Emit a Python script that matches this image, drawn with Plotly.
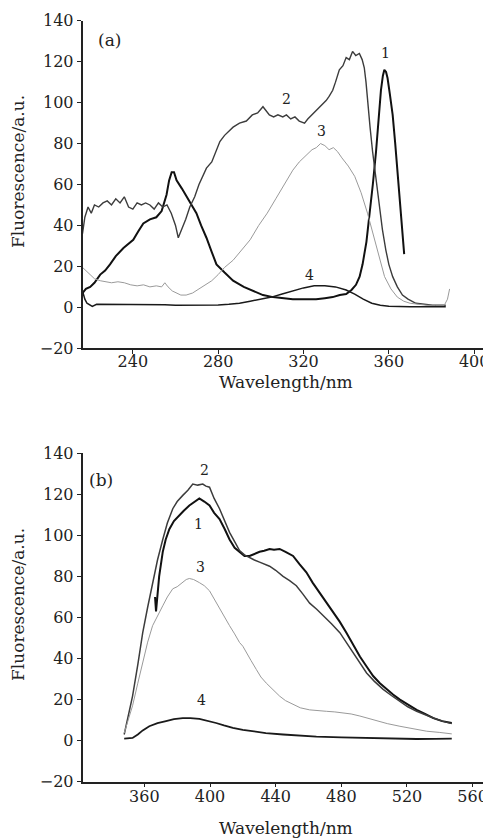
import plotly.graph_objects as go

# ---------- Panel (a) data ----------
a1_x = [216.4, 218, 220, 222, 224.7, 227, 229.3, 232, 235.6, 238, 240.2, 242.5, 244.9, 248, 251, 253.5, 255.8, 257, 258.2, 259.3, 260.5, 263, 265.2, 267.5, 269.8, 272, 274.5, 277, 279.2, 283, 287, 292, 296.3, 301, 305.7, 310, 315, 320, 325.9, 330, 333.7, 337, 340, 342.5, 344.6, 346.3, 347.7, 349.5, 350.9, 352.5, 354, 355.3, 356.3, 357.2, 357.9, 358.7, 359.4, 360.5, 361.8, 363, 364.1, 365, 365.7, 366.5, 367.2]
a1_y = [7, 9, 10, 12, 16, 18, 21, 25, 29, 31, 33, 37, 41, 43, 44, 47, 55, 62, 66, 66, 62, 58, 54, 50, 46, 40, 34, 27, 21, 17, 13, 10, 8, 6, 5, 4.5, 4, 4, 4, 4.5, 5, 6, 6.5, 8.5, 11, 15, 21, 32, 44, 60, 76, 93, 106, 113, 116, 115, 112, 104, 94, 80, 65, 53, 44, 35, 26]

a2_x = [216.4, 217.5, 219, 220.5, 222, 224, 226, 228, 230, 232, 234, 236, 238, 240, 242, 244, 246, 248, 250, 252, 254, 256, 258, 260, 261.3, 263, 264.8, 266.7, 269, 271, 274.5, 277, 279, 280.8, 283, 285, 287, 290, 293.2, 296, 298.5, 301, 302.5, 304, 306, 308, 310.3, 312, 314, 316, 318, 320.5, 322, 324, 326, 328, 330.6, 332, 333.7, 335, 336.8, 338.5, 340, 341.5, 343, 344.5, 346.2, 347.5, 348.5, 349.3, 350, 351.2, 352.4, 354, 355.5, 357, 358.6, 360, 361.8, 364, 366.4, 369, 372.7, 376, 380.5, 384, 386.7]
a2_y = [36, 44, 49, 46, 50, 49, 51, 52, 50, 53, 51, 54, 49, 48, 51, 50, 51, 50, 48, 51, 49, 50, 46, 40, 34, 38, 43, 49, 54, 60, 68, 71, 76, 81, 84, 86, 88, 90, 91, 94, 95, 98, 96, 94, 93, 94, 93, 94, 92, 93, 91, 90, 92, 94, 96, 98, 101, 103, 106, 110, 116, 118, 122, 121, 125, 123, 124, 121, 117, 110, 101, 88, 76, 62, 49, 38, 28, 21, 15, 10, 6, 4, 2, 1.5, 1, 1, 1]

a3_x = [216.4, 218, 220, 222, 224.7, 227, 230, 233, 236, 239, 242, 245, 248, 251, 253.5, 255, 256.5, 258.5, 260.5, 262.5, 265, 268, 271, 274, 277, 280, 283, 287, 291, 295, 299, 303, 307, 311, 315, 318, 321, 324, 326, 328, 330, 332, 334, 336, 338, 341, 344, 347, 350, 353, 355.5, 358, 361, 364, 367, 370, 374, 378, 382, 386, 387.5, 388.5]
a3_y = [19.5, 18, 16, 14, 13, 12.5, 12, 12.5, 12, 11, 10.5, 11, 10, 10.5, 10, 12, 10, 8, 7, 6, 6, 7, 9, 11, 13, 16, 19.5, 23, 28, 33, 40, 46, 53, 60, 67, 71, 74, 77, 78, 80, 79, 77, 78, 76, 73, 69, 64, 56, 46, 34, 24, 15, 9, 5, 3, 2, 1.5, 1, 1, 1, 4, 9]

a4_x = [216.4, 217.5, 218.5, 219.5, 221, 223, 226, 230, 235, 240, 245, 250, 255, 260, 265, 270, 275, 280, 285, 290, 295, 300, 305, 310, 315, 320, 325, 330, 335, 340, 344, 348, 352, 356, 360, 365, 370, 375, 380, 386.7]
a4_y = [8, 4, 2, 1.5, 0.5, 1.5, 1.5, 1.2, 1.5, 1.3, 1.5, 1.2, 1.3, 1, 1, 1, 1, 1.2, 1.5, 2, 3, 4, 5, 6.5, 8, 9.5, 10.5, 10.5, 10, 8.5, 6.5, 4, 2, 1, 0.5, 0.3, 0.3, 0.3, 0.3, 0.3]

# ---------- Panel (b) data ----------
b1_x = [366.5, 367.1, 369, 371.2, 373, 375.2, 378, 381.3, 384, 387.4, 390, 393.5, 396.5, 399.7, 402.5, 405.8, 409, 411.9, 415, 418, 421, 424.1, 427, 430.2, 433, 436.3, 439, 442.4, 446, 450.6, 454.5, 458.7, 462.5, 466.9, 471, 475, 479, 483.1, 487, 491.3, 495.5, 499.4, 503.5, 507.6, 511.5, 515.7, 520.5, 525.9, 531, 536.1, 541.5, 547.3]
b1_y = [70, 63, 80, 92, 98, 103, 107, 110, 112, 114.6, 116, 118, 116.5, 114.6, 111, 108, 103, 98, 94, 92, 90, 90, 91, 92, 92.5, 93.4, 93, 93.4, 92, 90, 86, 82, 77, 72, 67, 62.4, 58, 52.6, 47, 41, 36, 31.5, 28, 25, 22.5, 20, 17.5, 15, 13, 11, 9.5, 8.6]

b2_x = [347.7, 350, 352.8, 356, 359, 362, 365, 368, 371.2, 374, 377.3, 380, 383.4, 386.5, 389.5, 392.5, 395.6, 397.5, 399.7, 402.5, 405.8, 409, 411.9, 415, 418, 421, 424.1, 427, 430.2, 433, 436.3, 440, 444.5, 448.5, 452.6, 456.5, 460.7, 465, 468.9, 474, 479.1, 483, 487.2, 491, 495.4, 500, 505.5, 510.5, 515.7, 520.5, 525.9, 531, 536.1, 541.5, 547.3]
b2_y = [3, 11, 21.7, 37, 52.6, 65, 77, 88, 98, 106, 113, 116.5, 119.5, 122, 125, 124.5, 125, 124, 123.5, 118, 113, 107, 101.5, 97, 92.6, 90.5, 89, 88, 87, 86, 85, 83, 80, 78, 75.5, 71.5, 67, 64, 61, 57, 52.6, 48, 43, 38, 33, 29, 25, 22, 19, 16.5, 14.3, 12.5, 11, 9.5, 8.3]

b3_x = [347.7, 350, 352.8, 356, 359, 362, 365, 368, 371.2, 374, 377.3, 380, 383.4, 385.5, 387.4, 390, 393.5, 396.5, 399.7, 402.5, 405.8, 409, 411.9, 415, 418, 420, 422, 425, 428.2, 431, 434.3, 438, 442.4, 446, 450.6, 455, 460.7, 465.5, 470.9, 476, 481.1, 486, 491.3, 496, 501.5, 508, 515.7, 524, 532, 540, 547.3]
b3_y = [3.7, 10, 17, 28, 38, 48, 56, 61, 65.7, 70, 74, 75, 77, 78.5, 79, 78.5, 77, 75.5, 73, 69, 64, 60, 56, 52, 47.8, 46, 43, 39, 34.7, 31, 28, 25, 21.7, 19.5, 17.6, 16, 15, 14.5, 14.3, 14, 13.5, 13, 12, 11, 9.5, 8.3, 7, 5.8, 4.6, 4, 3.3]

b4_x = [347.7, 350, 352.8, 356, 359, 363, 368, 373.2, 378, 383.4, 388, 393.5, 398, 403.7, 408.5, 413.9, 420, 426.1, 434, 444.5, 454, 464.8, 480, 495.4, 510, 525.9, 537, 547.3]
b4_y = [1, 1, 1.3, 3, 5, 7, 8.5, 9.5, 10.5, 11, 11, 10.6, 9.8, 8.6, 7.4, 6.2, 5.3, 4.6, 3.7, 3, 2.5, 2, 1.6, 1.3, 1, 0.8, 0.9, 1]

# ---------- labels ----------
curve_names = ["1", "2", "3", "4"]
a_label_x = [358.6, 311.9, 328.3, 322.8]
a_label_y = [124, 102, 86, 16]
b_label_x = [393.2, 396.6, 394.0, 395.0]
b_label_y = [105.6, 131.7, 84.4, 20]

a_xticks = [240, 280, 320, 360, 400]
b_xticks = [360, 400, 440, 480, 520, 560]
y_ticks = [-20, 0, 20, 40, 60, 80, 100, 120, 140]

# page has an 8px body margin: figure occupies page pixels 8..491 x 8..838
OFF = 8
W, H = 491 - OFF, 838 - OFF
FONT = "DejaVu Serif"
TXT = "#222222"

def px_x(p):  # page pixel -> paper fraction
    return (p - OFF) / W

def px_y(p):
    return 1 - (p - OFF) / H

a_styles = [
    dict(color="#111111", width=2.0),
    dict(color="#3c3c3c", width=1.4),
    dict(color="#9a9a9a", width=1.0),
    dict(color="#1a1a1a", width=1.5),
]
b_styles = [
    dict(color="#111111", width=2.0),
    dict(color="#3c3c3c", width=1.5),
    dict(color="#9a9a9a", width=1.0),
    dict(color="#1a1a1a", width=1.8),
]

fig = go.Figure()
for xs, ys, st in zip([a1_x, a2_x, a3_x, a4_x], [a1_y, a2_y, a3_y, a4_y], a_styles):
    fig.add_trace(go.Scatter(x=xs, y=ys, mode="lines", line=st, xaxis="x", yaxis="y",
                             showlegend=False, hoverinfo="skip"))
for xs, ys, st in zip([b1_x, b2_x, b3_x, b4_x], [b1_y, b2_y, b3_y, b4_y], b_styles):
    fig.add_trace(go.Scatter(x=xs, y=ys, mode="lines", line=st, xaxis="x2", yaxis="y2",
                             showlegend=False, hoverinfo="skip"))

annotations = []
for nm, lx, ly in zip(curve_names, a_label_x, a_label_y):
    annotations.append(dict(x=lx, y=ly, xref="x", yref="y", text=nm, showarrow=False,
                            font=dict(family=FONT, size=14, color=TXT)))
for nm, lx, ly in zip(curve_names, b_label_x, b_label_y):
    annotations.append(dict(x=lx, y=ly, xref="x2", yref="y2", text=nm, showarrow=False,
                            font=dict(family=FONT, size=14, color=TXT)))
annotations.append(dict(x=229, y=130.5, xref="x", yref="y", text="(a)", showarrow=False,
                        font=dict(family=FONT, size=17, color=TXT)))
annotations.append(dict(x=333.5, y=127, xref="x2", yref="y2", text="(b)", showarrow=False,
                        font=dict(family=FONT, size=17, color=TXT)))

for cy in [382, 828]:
    annotations.append(dict(x=px_x(286), y=px_y(cy), xref="paper", yref="paper",
                            text="Wavelength/nm", showarrow=False, xanchor="center", yanchor="middle",
                            font=dict(family=FONT, size=17, color=TXT)))
for cy in [172, 605]:
    annotations.append(dict(x=px_x(18), y=px_y(cy), xref="paper", yref="paper",
                            text="Fluorescence/a.u.", showarrow=False, textangle=-90,
                            xanchor="center", yanchor="middle",
                            font=dict(family=FONT, size=17, color=TXT)))

x_left = px_x(82.5)
axis_common = dict(showgrid=False, zeroline=False, showline=True, linecolor=TXT, linewidth=1.5,
                   ticks="outside", ticklen=4, tickwidth=1.2, tickcolor=TXT, automargin=False,
                   tickfont=dict(family=FONT, size=16, color=TXT))

fig.update_layout(
    width=W, height=H,
    margin=dict(l=0, r=0, t=0, b=0, autoexpand=False),
    paper_bgcolor="white", plot_bgcolor="white",
    annotations=annotations,
    xaxis=dict(domain=[x_left, 1], range=[216.4, 407.9], tickvals=a_xticks, anchor="y",
               ticklabelstandoff=-6, **axis_common),
    yaxis=dict(domain=[px_y(348.3), px_y(20.7)], range=[-20, 140], tickvals=y_ticks, anchor="x", **axis_common),
    xaxis2=dict(domain=[x_left, 1], range=[322.3, 571.2], tickvals=b_xticks, anchor="y2",
                ticklabelstandoff=-5, **axis_common),
    yaxis2=dict(domain=[px_y(781.7), px_y(453.3)], range=[-20, 140], tickvals=y_ticks, anchor="x2", **axis_common),
)

fig.write_html("out.html")
